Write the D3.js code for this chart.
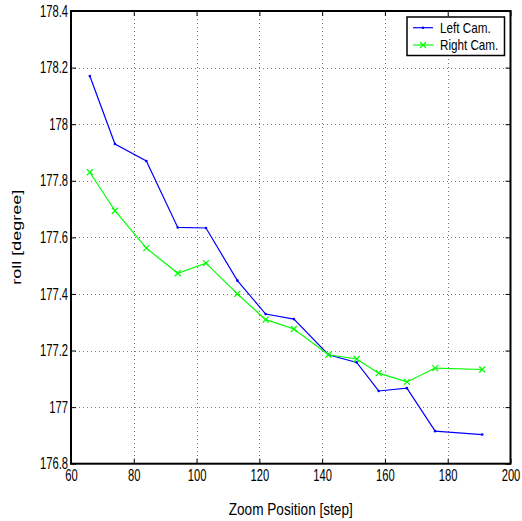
<!DOCTYPE html>
<html>
<head>
<meta charset="utf-8">
<script src="https://cdn.jsdelivr.net/npm/d3@7"></script>
<style>
  html, body { margin: 0; padding: 0; background: #fff; }
  svg { display: block; }
  text { font-family: "Liberation Sans", Arial, Helvetica, sans-serif; fill: #000; }
</style>
</head>
<body>
<svg id="chart" width="522" height="521"></svg>
<script>
// Zoom positions (steps) at which roll was measured
const zoomSteps = [66, 74, 84, 94, 103, 113, 122, 131, 142, 151, 158, 167, 176, 191];
// Roll angle per camera [degree]
const leftCam  = [178.17, 177.93, 177.87, 177.635, 177.633, 177.447, 177.329, 177.311, 177.185, 177.158, 177.057, 177.067, 176.915, 176.903];
const rightCam = [177.83, 177.694, 177.562, 177.473, 177.509, 177.400, 177.309, 177.276, 177.185, 177.170, 177.120, 177.089, 177.138, 177.133];
// Axis ticks
const xTicks = [60, 80, 100, 120, 140, 160, 180, 200];
const yTicks = [176.8, 177, 177.2, 177.4, 177.6, 177.8, 178, 178.2, 178.4];
const seriesNames = ["Left Cam.", "Right Cam."];

const svg = d3.select("#chart");
const plot = { left: 71, right: 510.5, top: 11, bottom: 463.7 };

const x = d3.scaleLinear().domain([60, 200]).range([plot.left, plot.right]);
const y = d3.scaleLinear().domain([176.8, 178.4]).range([plot.bottom, plot.top]);

const fmt = d => d3.format("")(+d.toFixed(1));

// Dotted grid
const grid = svg.append("g").attr("stroke", "#777").attr("stroke-width", 1)
  .attr("stroke-dasharray", "1,3").attr("fill", "none");
grid.selectAll("line.gx").data(xTicks.slice(1, -1)).join("line")
  .attr("x1", d => Math.round(x(d)) + 0.5).attr("x2", d => Math.round(x(d)) + 0.5)
  .attr("y1", plot.top).attr("y2", plot.bottom);
grid.selectAll("line.gy").data(yTicks.slice(1, -1)).join("line")
  .attr("y1", d => Math.round(y(d)) + 0.5).attr("y2", d => Math.round(y(d)) + 0.5)
  .attr("x1", plot.left).attr("x2", plot.right);

// Series
const series = [
  { name: seriesNames[0], values: leftCam, color: "#0000ff", marker: "dot" },
  { name: seriesNames[1], values: rightCam, color: "#00ff00", marker: "x" }
];
const line = d3.line().x(d => x(d[0])).y(d => y(d[1]));

function drawMarker(g, mx, my, s) {
  if (s.marker === "dot") {
    g.append("circle").attr("cx", mx).attr("cy", my).attr("r", 1.3).attr("fill", s.color);
  } else {
    const r = 3;
    g.append("path")
      .attr("d", `M${mx - r},${my - r}L${mx + r},${my + r}M${mx - r},${my + r}L${mx + r},${my - r}`)
      .attr("stroke", s.color).attr("stroke-width", 1.2).attr("fill", "none");
  }
}

series.forEach(s => {
  const pts = zoomSteps.map((v, i) => [v, s.values[i]]);
  const g = svg.append("g");
  g.append("path").attr("d", line(pts)).attr("fill", "none")
    .attr("stroke", s.color).attr("stroke-width", 1.2);
  pts.forEach(p => drawMarker(g, x(p[0]), y(p[1]), s));
});

// Axes with inward ticks on all four sides
const tickLen = 5;
const axB = svg.append("g").attr("transform", `translate(0,${plot.bottom})`)
  .call(d3.axisBottom(x).tickValues(xTicks).tickFormat(fmt).tickSizeInner(-tickLen).tickSizeOuter(0).tickPadding(6));
const axL = svg.append("g").attr("transform", `translate(${plot.left},0)`)
  .call(d3.axisLeft(y).tickValues(yTicks).tickFormat(fmt).tickSizeInner(-tickLen).tickSizeOuter(0).tickPadding(3));
const axT = svg.append("g").attr("transform", `translate(0,${plot.top})`)
  .call(d3.axisTop(x).tickValues(xTicks).tickFormat("").tickSizeInner(-tickLen).tickSizeOuter(0));
const axR = svg.append("g").attr("transform", `translate(${plot.right},0)`)
  .call(d3.axisRight(y).tickValues(yTicks).tickFormat("").tickSizeInner(-tickLen).tickSizeOuter(0));
[axB, axL, axT, axR].forEach(a => {
  a.select(".domain").remove();
  a.selectAll(".tick line").attr("stroke", "#000").attr("stroke-width", 1);
  a.selectAll("text").attr("font-size", 16).attr("font-family", null).attr("fill", "#000");
});
// Narrow tick lettering
[axB, axL].forEach(a => a.selectAll(".tick text").each(function () {
  const w = this.getComputedTextLength();
  d3.select(this).attr("textLength", w * 0.7).attr("lengthAdjust", "spacingAndGlyphs");
}));

// Frame
svg.append("rect").attr("x", plot.left).attr("y", plot.top)
  .attr("width", plot.right - plot.left).attr("height", plot.bottom - plot.top)
  .attr("fill", "none").attr("stroke", "#000").attr("stroke-width", 2);

// Axis titles
svg.append("text").attr("x", (plot.left + plot.right) / 2).attr("y", 515)
  .attr("text-anchor", "middle").attr("font-size", 17)
  .attr("textLength", 124).attr("lengthAdjust", "spacingAndGlyphs")
  .text("Zoom Position [step]");
svg.append("text")
  .attr("transform", `translate(20.5,${(plot.top + plot.bottom) / 2}) scale(0.75,1) rotate(-90)`)
  .attr("text-anchor", "middle").attr("font-size", 17)
  .attr("textLength", 95).attr("lengthAdjust", "spacingAndGlyphs")
  .text("roll [degree]");

// Legend
const lg = svg.append("g");
lg.append("rect").attr("x", 407).attr("y", 17).attr("width", 97.5).attr("height", 38.5)
  .attr("fill", "#fff").attr("stroke", "#000").attr("stroke-width", 1.5);
const rowY = [27.7, 45];
const textW = [50.7, 58.3];
series.forEach((s, i) => {
  lg.append("line").attr("x1", 413).attr("x2", 433).attr("y1", rowY[i]).attr("y2", rowY[i])
    .attr("stroke", s.color).attr("stroke-width", 1.2);
  drawMarker(lg, 423, rowY[i], s);
  lg.append("text").attr("x", 440).attr("y", rowY[i] + 5.4).attr("font-size", 15)
    .attr("textLength", textW[i]).attr("lengthAdjust", "spacingAndGlyphs")
    .text(s.name);
});
</script>
</body>
</html>
